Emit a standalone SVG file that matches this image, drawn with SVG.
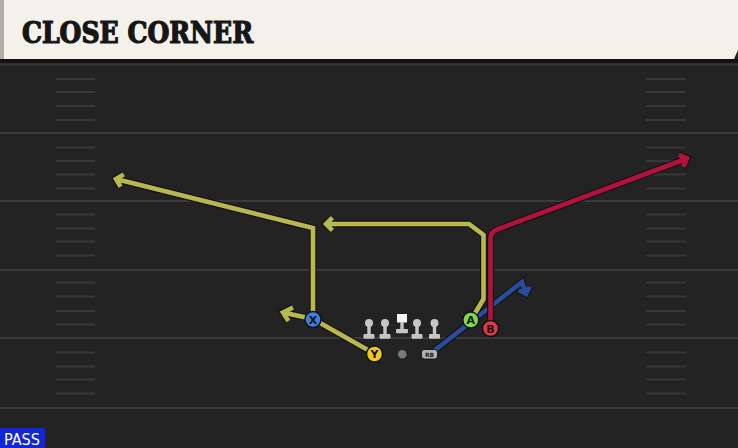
<svg xmlns="http://www.w3.org/2000/svg" width="738" height="448" viewBox="0 0 738 448">
<style>
.yard{stroke:#3a3a3a;stroke-width:2}
.hash{stroke:#383838;stroke-width:2}
.out{fill:none;stroke:#141418;stroke-width:7;stroke-linejoin:miter;stroke-linecap:butt}
.rt{fill:none;stroke-width:4.6;stroke-linejoin:miter;stroke-linecap:butt}
.yel{stroke:#b9b84e}
.red{stroke:#b3133b}
.blu{stroke:#2b4c9c}
.pl{stroke:#121212;stroke-width:1.5}
.lbl{font-family:"DejaVu Sans","Liberation Sans",sans-serif;font-weight:bold;font-size:11px;fill:#111;text-anchor:middle}
.lm{fill:#c6c6c6}
</style>
<rect x="0" y="0" width="738" height="448" fill="#232323"/>
<!-- header -->
<g id="header">
<rect x="0" y="59" width="738" height="4" fill="#121212"/>
<polygon points="0,0 738,0 738,50 734,59 0,59" fill="#f4f1ea"/>
<rect x="0" y="0" width="4" height="59" fill="#aeaea6"/>
<text x="22" y="42.5" font-family="DejaVu Serif Condensed,DejaVu Serif,serif" font-weight="bold" font-size="29" fill="#161616" stroke="#161616" stroke-width="1.2" textLength="231" lengthAdjust="spacingAndGlyphs">CLOSE CORNER</text>
</g>
<!-- field -->
<g id="field">
<line class="yard" x1="0" y1="64.5" x2="738" y2="64.5"/>
<line class="yard" x1="0" y1="133" x2="738" y2="133"/>
<line class="yard" x1="0" y1="201" x2="738" y2="201"/>
<line class="yard" x1="0" y1="270" x2="738" y2="270"/>
<line class="yard" x1="0" y1="338" x2="738" y2="338"/>
<line class="yard" x1="0" y1="408" x2="738" y2="408"/>
<g class="hash">
<line x1="56" y1="79" x2="95" y2="79"/><line x1="56" y1="92" x2="95" y2="92"/><line x1="56" y1="106" x2="95" y2="106"/><line x1="56" y1="120" x2="95" y2="120"/>
<line x1="56" y1="147.5" x2="95" y2="147.5"/><line x1="56" y1="161" x2="95" y2="161"/><line x1="56" y1="174.5" x2="95" y2="174.5"/><line x1="56" y1="188.5" x2="95" y2="188.5"/>
<line x1="56" y1="214.5" x2="95" y2="214.5"/><line x1="56" y1="228.5" x2="95" y2="228.5"/><line x1="56" y1="241.5" x2="95" y2="241.5"/><line x1="56" y1="255.5" x2="95" y2="255.5"/>
<line x1="56" y1="282.5" x2="95" y2="282.5"/><line x1="56" y1="296.5" x2="95" y2="296.5"/><line x1="56" y1="311" x2="95" y2="311"/><line x1="56" y1="324.5" x2="95" y2="324.5"/>
<line x1="56" y1="352.5" x2="95" y2="352.5"/><line x1="56" y1="366.5" x2="95" y2="366.5"/><line x1="56" y1="379.5" x2="95" y2="379.5"/><line x1="56" y1="393.5" x2="95" y2="393.5"/>
<line x1="646" y1="79" x2="686" y2="79"/><line x1="646" y1="92" x2="686" y2="92"/><line x1="646" y1="106" x2="686" y2="106"/><line x1="646" y1="120" x2="686" y2="120"/>
<line x1="646" y1="147.5" x2="686" y2="147.5"/><line x1="646" y1="161" x2="686" y2="161"/><line x1="646" y1="174.5" x2="686" y2="174.5"/><line x1="646" y1="188.5" x2="686" y2="188.5"/>
<line x1="646" y1="214.5" x2="686" y2="214.5"/><line x1="646" y1="228.5" x2="686" y2="228.5"/><line x1="646" y1="241.5" x2="686" y2="241.5"/><line x1="646" y1="255.5" x2="686" y2="255.5"/>
<line x1="646" y1="282.5" x2="686" y2="282.5"/><line x1="646" y1="296.5" x2="686" y2="296.5"/><line x1="646" y1="311" x2="686" y2="311"/><line x1="646" y1="324.5" x2="686" y2="324.5"/>
<line x1="646" y1="352.5" x2="686" y2="352.5"/><line x1="646" y1="366.5" x2="686" y2="366.5"/><line x1="646" y1="379.5" x2="686" y2="379.5"/><line x1="646" y1="393.5" x2="686" y2="393.5"/>
</g>
</g>
<!-- connectors / routes -->
<g id="routes">
<g id="route-rb">
<path class="out" d="M430,354 L522,282 L526,294 M529.6,286.8 L526,294 L518.8,290.4"/>
<path class="rt blu" d="M430,354 L522,282 L526,294 M529.6,286.8 L526,294 L518.8,290.4"/>
</g>
<g id="route-x">
<path class="out" d="M313,319 L313,228 L116,179 M120.6,186.7 L116,179 L123.7,174.4"/>
<path class="rt yel" d="M313,319 L313,228 L116,179 M120.6,186.7 L116,179 L123.7,174.4"/>
</g>
<g id="route-y">
<path class="out" d="M375,354 L313,319 L283,312.5 M288.4,321 L283,312.5 L293,307.5"/>
<path class="rt yel" d="M375,354 L313,319 L283,312.5 M288.4,321 L283,312.5 L293,307.5"/>
</g>
<g id="route-a">
<path class="out" d="M471,320 L483.5,299 L483.5,235 L469,224 L326,224 M332.4,217.6 L326,224 L332.4,230.4"/>
<path class="rt yel" d="M471,320 L483.5,299 L483.5,235 L469,224 L326,224 M332.4,217.6 L326,224 L332.4,230.4"/>
</g>
<g id="route-b">
<path class="out" d="M490.5,328 L490.5,239 Q490.5,232 497,229.5 L687,158.5 M678.8,154.8 L687,158.5 L683.3,166.7"/>
<path class="rt red" d="M490.5,328 L490.5,239 Q490.5,232 497,229.5 L687,158.5 M678.8,154.8 L687,158.5 L683.3,166.7"/>
</g>
</g>
<!-- linemen -->
<g id="linemen">
<g id="lt"><circle class="lm" cx="369" cy="323" r="4"/><rect class="lm" x="367.3" y="326" width="3.4" height="9"/><rect class="lm" x="363.5" y="334" width="11" height="4.8" rx="1"/></g>
<g id="lg"><circle class="lm" cx="385" cy="323" r="4"/><rect class="lm" x="383.3" y="326" width="3.4" height="9"/><rect class="lm" x="379.5" y="334" width="11" height="4.8" rx="1"/></g>
<g id="c"><rect x="397" y="314" width="10" height="8.5" fill="#f4f4f4"/><rect class="lm" x="400.3" y="322" width="3.4" height="8"/><rect class="lm" x="396" y="329" width="12" height="4.3" rx="1"/></g>
<g id="rg"><circle class="lm" cx="417" cy="323" r="4"/><rect class="lm" x="415.3" y="326" width="3.4" height="9"/><rect class="lm" x="411.5" y="334" width="11" height="4.8" rx="1"/></g>
<g id="rt"><circle class="lm" cx="434.5" cy="323" r="4"/><rect class="lm" x="432.8" y="326" width="3.4" height="9"/><rect class="lm" x="429" y="334" width="11" height="4.8" rx="1"/></g>
</g>
<g id="ball"><circle cx="402.3" cy="354.3" r="4.3" fill="#7a7a7a"/></g>
<g id="rb">
<rect x="421.5" y="349.5" width="16" height="9.5" rx="3" fill="#b4b4b4" stroke="#161616" stroke-width="1"/>
<text x="429.5" y="357" font-family="DejaVu Sans,sans-serif" font-weight="bold" font-size="6" fill="#222" text-anchor="middle">RB</text>
</g>
<g id="player-x"><circle class="pl" cx="313" cy="319.5" r="8" fill="#3f7fe0"/><text class="lbl" x="313" y="323.5">X</text></g>
<g id="player-y"><circle class="pl" cx="374.5" cy="354" r="8" fill="#f2c81c"/><text class="lbl" x="374.5" y="358">Y</text></g>
<g id="player-a"><circle class="pl" cx="470.8" cy="320" r="8" fill="#7ed94b"/><text class="lbl" x="470.8" y="324">A</text></g>
<g id="player-b"><circle class="pl" cx="490.5" cy="328.5" r="8" fill="#e33a4b"/><text class="lbl" x="490.5" y="332.5">B</text></g>
<g id="pass-tag">
<rect x="0" y="428" width="45" height="20" fill="#1226d8"/>
<text x="4" y="445" font-family="DejaVu Sans Condensed,DejaVu Sans,sans-serif" font-size="15" fill="#ffffff" textLength="36" lengthAdjust="spacingAndGlyphs">PASS</text>
</g>
</svg>
